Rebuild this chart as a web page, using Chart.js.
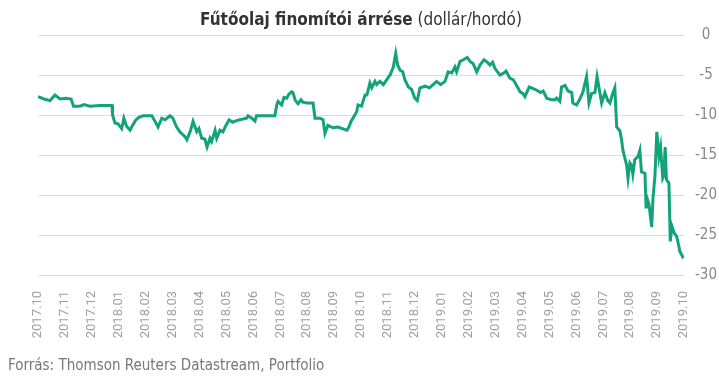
<!DOCTYPE html>
<html lang="hu">
<head>
<meta charset="utf-8">
<title>Fűtőolaj finomítói árrése</title>
<script src="https://cdn.jsdelivr.net/npm/chart.js@4.4.1/dist/chart.umd.min.js"></script>
<style>
  html, body { margin: 0; padding: 0; background: #fff; }
  #doboz { position: relative; width: 719px; height: 378px; overflow: hidden; }
  #grafikon { position: absolute; left: 0; top: 0; }
  #cim {
    position: absolute; left: 0; top: 9px; width: 722px; text-align: center;
    font-family: "Liberation Sans Narrow", "DejaVu Sans Condensed", Roboto, sans-serif;
    font-size: 17px; color: #333; line-height: 20px;
  }
  #forras {
    position: absolute; left: 8px; top: 356px;
    font-family: "Liberation Sans Narrow", "DejaVu Sans Condensed", Roboto, sans-serif;
    font-size: 15px; color: #777; line-height: 18px;
  }
</style>
</head>
<body>
<div id="doboz">
  <canvas id="grafikon" width="719" height="378"></canvas>
  <div id="cim"><b>Fűtőolaj finomítói árrése</b> (dollár/hordó)</div>
  <div id="forras">Forrás: Thomson Reuters Datastream, Portfolio</div>
</div>
<script>
/* HÓNAP FELIRATOK */
var honapCimkek = ["2017.10","2017.11","2017.12","2018.01","2018.02","2018.03","2018.04",
  "2018.05","2018.06","2018.07","2018.08","2018.09","2018.10","2018.11","2018.12",
  "2019.01","2019.02","2019.03","2019.04","2019.05","2019.06","2019.07","2019.08",
  "2019.09","2019.10"];

/* ÁRRÉS ADATOK - hónapok 2017.10 óta, dollár/hordó */
var honapPoz = [0.00,0.22,0.45,0.63,0.82,1.04,1.23,1.32,1.56,1.71,1.93,
  2.30,2.75,2.77,2.86,2.97,3.11,3.19,3.29,3.42,3.53,3.64,3.75,3.90,4.23,4.35,4.46,4.60,4.72,
  4.90,5.01,5.15,5.27,5.46,5.53,5.67,5.76,5.90,5.98,6.08,6.20,6.28,6.39,6.45,6.58,6.64,6.76,
  6.87,6.98,7.10,7.23,7.38,7.50,7.75,7.80,7.94,8.06,8.12,8.80,8.87,8.92,9.05,9.14,9.24,9.32,
  9.42,9.47,9.55,9.66,9.77,9.84,9.98,10.22,10.29,10.48,10.59,10.66,10.77,
  10.96,11.14,11.39,11.48,11.55,11.63,
  11.84,11.89,12.02,12.15,12.22,12.33,12.40,12.52,12.58,12.70,12.83,12.95,13.08,13.20,13.29,
  13.36,13.45,13.55,13.63,13.76,13.88,14.00,14.09,14.19,14.38,14.54,14.68,14.81,14.96,15.12,
  15.24,15.37,15.49,15.55,15.68,15.80,15.95,16.05,16.17,16.30,16.42,16.57,16.69,16.79,16.89,
  16.98,17.16,17.28,17.39,17.53,17.66,17.76,17.91,18.01,18.09,18.25,18.40,18.53,18.67,18.77,
  18.90,19.08,19.21,19.27,
  19.39,19.45,19.58,19.69,19.83,19.87,20.01,20.13,20.24,20.38,20.47,20.57,20.69,20.77,20.88,
  20.94,21.06,21.17,21.25,21.35,21.43,21.50,21.62,21.68,21.73,21.87,21.92,21.99,22.05,22.10,
  22.17,22.29,22.36,22.42,22.55,22.59,22.62,22.70,22.80,22.85,22.92,22.99,23.07,23.13,23.21,
  23.25,23.30,23.35,23.44,23.49,23.55,23.63,23.73,23.77,23.85,23.98];

var arres = [-7.7,-8.0,-8.2,-7.5,-8.0,-7.9,-8.0,-8.9,-8.9,-8.7,-8.9,
  -8.8,-8.8,-10.0,-11.0,-11.1,-11.7,-10.4,-11.4,-11.9,-11.2,-10.6,-10.3,-10.1,-10.1,-10.8,
  -11.5,-10.4,-10.6,-10.1,-10.4,-11.5,-12.1,-12.7,-13.1,-11.9,-10.8,-12.1,-11.7,-12.9,-13.0,
  -14.0,-12.9,-13.3,-11.9,-12.9,-11.9,-12.1,-11.3,-10.6,-10.9,-10.7,-10.6,-10.4,-10.1,-10.4,
  -10.75,-10.1,-10.1,-8.75,-8.3,-8.75,-7.8,-7.9,-7.4,-7.1,-7.2,-8.1,-8.6,-8.1,-8.4,-8.5,
  -8.5,-10.4,-10.4,-10.6,-12.3,-11.3,
  -11.6,-11.5,-11.8,-11.9,-11.5,-10.8,
  -9.6,-8.75,-8.9,-7.5,-7.5,-6.0,-6.6,-5.8,-6.2,-5.8,-6.2,-5.6,-5.0,-4.0,-2.3,
  -3.75,-4.4,-4.6,-5.6,-6.5,-6.8,-7.9,-8.2,-6.6,-6.4,-6.6,-6.2,-5.8,-6.2,-5.8,
  -4.6,-4.75,-4.0,-4.6,-3.3,-3.1,-2.8,-3.3,-3.6,-4.6,-3.75,-3.1,-3.4,-3.75,-3.4,
  -4.2,-5.0,-4.8,-4.5,-5.4,-5.6,-6.2,-7.1,-7.3,-7.7,-6.5,-6.7,-6.9,-7.2,-7.0,
  -7.9,-8.1,-8.1,-7.9,
  -8.3,-6.5,-6.3,-7.0,-7.2,-8.5,-8.75,-8.0,-7.2,-5.2,-8.5,-7.3,-7.2,-5.2,-7.3,
  -8.5,-7.2,-8.2,-8.5,-7.3,-6.6,-11.5,-12.0,-13.1,-14.4,-16.3,-17.9,-16.0,-16.3,-17.4,
  -15.6,-15.2,-14.4,-17.1,-17.3,-21.5,-20.3,-21.2,-24.0,-20.3,-17.6,-12.1,-15.2,-14.0,-17.9,
  -17.6,-14.0,-18.1,-18.5,-25.8,-23.9,-24.7,-25.2,-25.8,-27.1,-27.9];

var vonalSzin = "#13a37b";
var racsSzin = "#dddddd";

var pontok = new Array();
for (var i = 0; i < arres.length; i++) {
  pontok.push({ x: honapPoz[i], y: arres[i] });
}

var ctx = document.getElementById("grafikon");
var grafikon = new Chart(ctx, {
  type: 'line',
  data: {
    datasets: [{
      label: 'Fűtőolaj finomítói árrése',
      data: pontok,
      borderColor: vonalSzin,
      borderWidth: 3,
      pointRadius: 0,
      tension: 0,
      fill: false
    }]
  },
  options: {
    responsive: false,
    animation: false,
    layout: { padding: { left: 38, top: 35, right: 0, bottom: 33 } },
    plugins: {
      legend: { display: false },
      tooltip: { enabled: false }
    },
    scales: {
      x: {
        type: 'linear',
        min: 0,
        max: 24,
        grid: { display: false },
        border: { display: false },
        ticks: {
          stepSize: 1,
          autoSkip: false,
          minRotation: 90,
          maxRotation: 90,
          padding: 8,
          color: '#a0a0a0',
          font: { family: 'Roboto', size: 13 },
          callback: function (ertek) { return honapCimkek[ertek]; }
        },
        afterFit: function (skala) { skala.height = 70; }
      },
      y: {
        position: 'right',
        min: -30,
        max: 0,
        grid: { color: racsSzin, drawTicks: false },
        border: { display: false },
        ticks: {
          stepSize: 5,
          padding: 11,
          crossAlign: 'center',
          color: '#888',
          font: { family: '"Liberation Sans Narrow", "DejaVu Sans Condensed", Roboto, sans-serif', size: 15 }
        },
        afterFit: function (skala) { skala.width = 35; }
      }
    }
  }
});
</script>
</body>
</html>
